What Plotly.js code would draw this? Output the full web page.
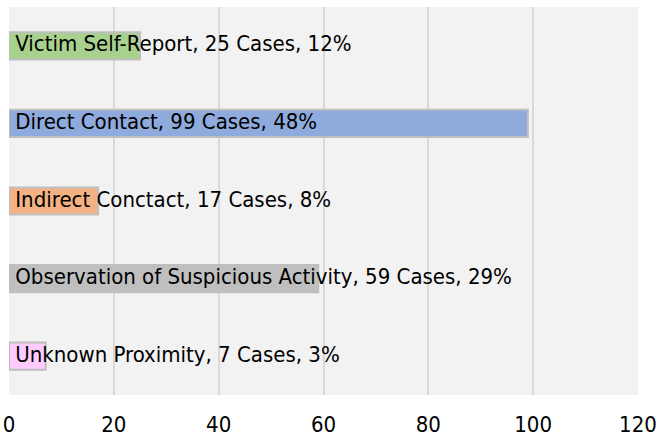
<!DOCTYPE html>
<html>
<head>
<meta charset="utf-8">
<script src="https://cdn.plot.ly/plotly-3.0.1.min.js"></script>
<style>
  html, body { margin: 0; padding: 0; background: #fff; }
  #chart { width: 660px; height: 439px; }
</style>
</head>
<body>
<div id="chart"></div>
<script>
var categories = ['Victim Self-Report', 'Direct Contact', 'Indirect Conctact',
                  'Observation of Suspicious Activity', 'Unknown Proximity'];
var cases = [25, 99, 17, 59, 7];
var percents = [12, 48, 8, 29, 3];
var barColors = ['#a9d18e', '#8faadc', '#f4b183', '#bfbfbf', '#ffccff'];
var xTicks = [0, 20, 40, 60, 80, 100, 120];

var labels = categories.map(function (c, i) {
  return ' ' + c + ', ' + cases[i] + ' Cases, ' + percents[i] + '%';
});

var fnt = '"DejaVu Sans Condensed", "DejaVu Sans", sans-serif';

/* bars */
var bars = {
  type: 'bar',
  orientation: 'h',
  y: categories,
  x: cases,
  marker: { color: barColors, line: { color: '#bfbfbf', width: 2 } },
  width: 0.35,
  hoverinfo: 'none'
};

/* labels drawn from the base of each bar */
var textTrace = {
  type: 'scatter',
  mode: 'text',
  y: categories,
  x: cases.map(function () { return 0; }),
  text: labels,
  textposition: 'middle right',
  textfont: { family: fnt, size: 22, color: '#000' },
  hoverinfo: 'none',
  cliponaxis: false
};

var layout = {
  width: 660,
  height: 439,
  margin: { l: 9, r: 22, t: 7, b: 44 },
  paper_bgcolor: '#ffffff',
  plot_bgcolor: '#f2f2f2',
  showlegend: false,
  font: { family: fnt, size: 22, color: '#000' },
  xaxis: {
    range: [0, 120],
    tickvals: xTicks,
    showgrid: true,
    gridcolor: '#d9d9d9',
    gridwidth: 2,
    zeroline: false,
    showline: false,
    ticks: '',
    ticklen: 0,
    ticklabelstandoff: 14,
    tickfont: { family: fnt, size: 22, color: '#000' },
    fixedrange: true
  },
  yaxis: {
    autorange: 'reversed',
    showticklabels: false,
    showgrid: false,
    zeroline: false,
    ticks: '',
    fixedrange: true
  }
};

Plotly.newPlot('chart', [bars, textTrace], layout, { displayModeBar: false, staticPlot: true });
</script>
</body>
</html>
